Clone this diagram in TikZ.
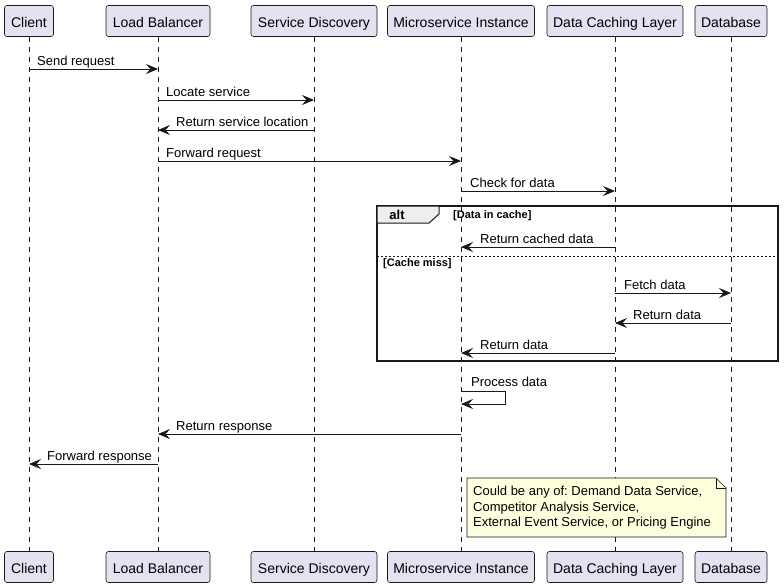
\documentclass[tikz,border=0pt]{standalone}
\usepackage{fontspec}
\setmainfont{Liberation Sans}
\usetikzlibrary{arrows.meta}
\definecolor{c18}{HTML}{181818}
\definecolor{partfill}{HTML}{E2E2F0}
\definecolor{notefill}{HTML}{FEFFDD}
\definecolor{tabfill}{HTML}{EEEEEE}
\frenchspacing
\begin{document}
\begin{tikzpicture}[x=1pt,y=-1pt,
  part/.style={draw=c18, fill=partfill, rounded corners=2.5pt, minimum height=31pt, inner sep=0pt, text height=13pt, text depth=0pt, line width=0.6pt, font=\fontsize{14}{16}\selectfont},
  life/.style={draw=c18, line width=0.5pt, dash pattern=on 5pt off 5pt},
  msg/.style={draw=c18, line width=0.9pt, -{Stealth[length=12pt,width=10pt,inset=4.5pt]}},
  lbl/.style={inner sep=0pt, font=\fontsize{13}{15}\selectfont, text=black},
  guard/.style={inner sep=0pt, font=\fontsize{11}{13}\selectfont\bfseries, text=black},
  notetxt/.style={inner sep=0pt, align=left, font=\fontsize{13}{15.5}\selectfont, text=black}
]
\useasboundingbox (0,0) rectangle (784,587);
% participants top
\node[part, minimum width=49pt]  (cT) at (29,21)  {Client};
\node[part, minimum width=104pt] (lT) at (158,21) {Load Balancer};
\node[part, minimum width=126pt] (sT) at (314,21) {Service Discovery};
\node[part, minimum width=147pt] (mT) at (461,21) {Microservice Instance};
\node[part, minimum width=136pt] (dT) at (615,21) {Data Caching Layer};
\node[part, minimum width=72pt]  (bT) at (731,21) {Database};
% participants bottom
\node[part, minimum width=49pt]  (cB) at (29,567)  {Client};
\node[part, minimum width=104pt] (lB) at (158,567) {Load Balancer};
\node[part, minimum width=126pt] (sB) at (314,567) {Service Discovery};
\node[part, minimum width=147pt] (mB) at (461,567) {Microservice Instance};
\node[part, minimum width=136pt] (dB) at (615,567) {Data Caching Layer};
\node[part, minimum width=72pt]  (bB) at (731,567) {Database};
% lifelines
\foreach \p in {c,l,s,m,d,b} { \draw[life] (\p T.south) -- (\p B.north); }
% alt frame
\draw[line width=1.5pt, draw=c18] (377,206) rectangle (778,361);
\draw[line width=1pt, draw=c18, fill=tabfill] (377,206) -- (439,206) -- (439,214) -- (429,223) -- (377,223) -- cycle;
\node[inner sep=0pt, font=\fontsize{13}{15}\selectfont\bfseries] (altlbl) at (397,215) {alt};
\node[guard, anchor=west] (g1) at (453,216) {[Data in cache]};
\draw[draw=c18, line width=0.6pt, dash pattern=on 2pt off 2pt] (377,256) -- (778,256);
\node[guard, anchor=west] (g2) at (383,264) {[Cache miss]};
% messages
\draw[msg] (cT |- 0,69) -- (lT |- 0,69);
\node[lbl, anchor=base west] (t1) at (37,65) {Send request};
\draw[msg] (lT |- 0,100) -- (sT |- 0,100);
\node[lbl, anchor=base west] (t2) at (166,96) {Locate service};
\draw[msg] (sT |- 0,130) -- (lT |- 0,130);
\node[lbl, anchor=base west] (t3) at (176,126) {Return service location};
\draw[msg] (lT |- 0,161) -- (mT |- 0,161);
\node[lbl, anchor=base west] (t4) at (166,157) {Forward request};
\draw[msg] (mT |- 0,191) -- (dT |- 0,191);
\node[lbl, anchor=base west] (t5) at (470,187) {Check for data};
\draw[msg] (dT |- 0,247) -- (mT |- 0,247);
\node[lbl, anchor=base west] (t6) at (480,243) {Return cached data};
\draw[msg] (dT |- 0,293) -- (bT |- 0,293);
\node[lbl, anchor=base west] (t7) at (624,289) {Fetch data};
\draw[msg] (bT |- 0,323) -- (dT |- 0,323);
\node[lbl, anchor=base west] (t8) at (633,319) {Return data};
\draw[msg] (dT |- 0,353) -- (mT |- 0,353);
\node[lbl, anchor=base west] (t9) at (480,349) {Return data};
% self message
\coordinate (sm1) at (505,391);
\coordinate (sm2) at (505,404);
\draw[msg] (mT |- 0,391) -- (sm1) -- (sm2) -- (mT |- 0,404);
\node[lbl, anchor=base west] (t10) at (471,386) {Process data};
\draw[msg] (mT |- 0,434) -- (lT |- 0,434);
\node[lbl, anchor=base west] (t11) at (176,430) {Return response};
\draw[msg] (lT |- 0,464) -- (cT |- 0,464);
\node[lbl, anchor=base west] (t12) at (47,460) {Forward response};
% note
\draw[draw=c18, line width=0.6pt, fill=notefill] (467,478) -- (716,478) -- (726,488) -- (726,537) -- (467,537) -- cycle;
\draw[draw=c18, line width=0.6pt] (716,478) -- (716,488) -- (726,488);
\node[notetxt, anchor=north west] (note) at (473,486) {Could be any of: Demand Data Service,\\Competitor Analysis Service,\\External Event Service, or Pricing Engine};
\end{tikzpicture}
\end{document}
